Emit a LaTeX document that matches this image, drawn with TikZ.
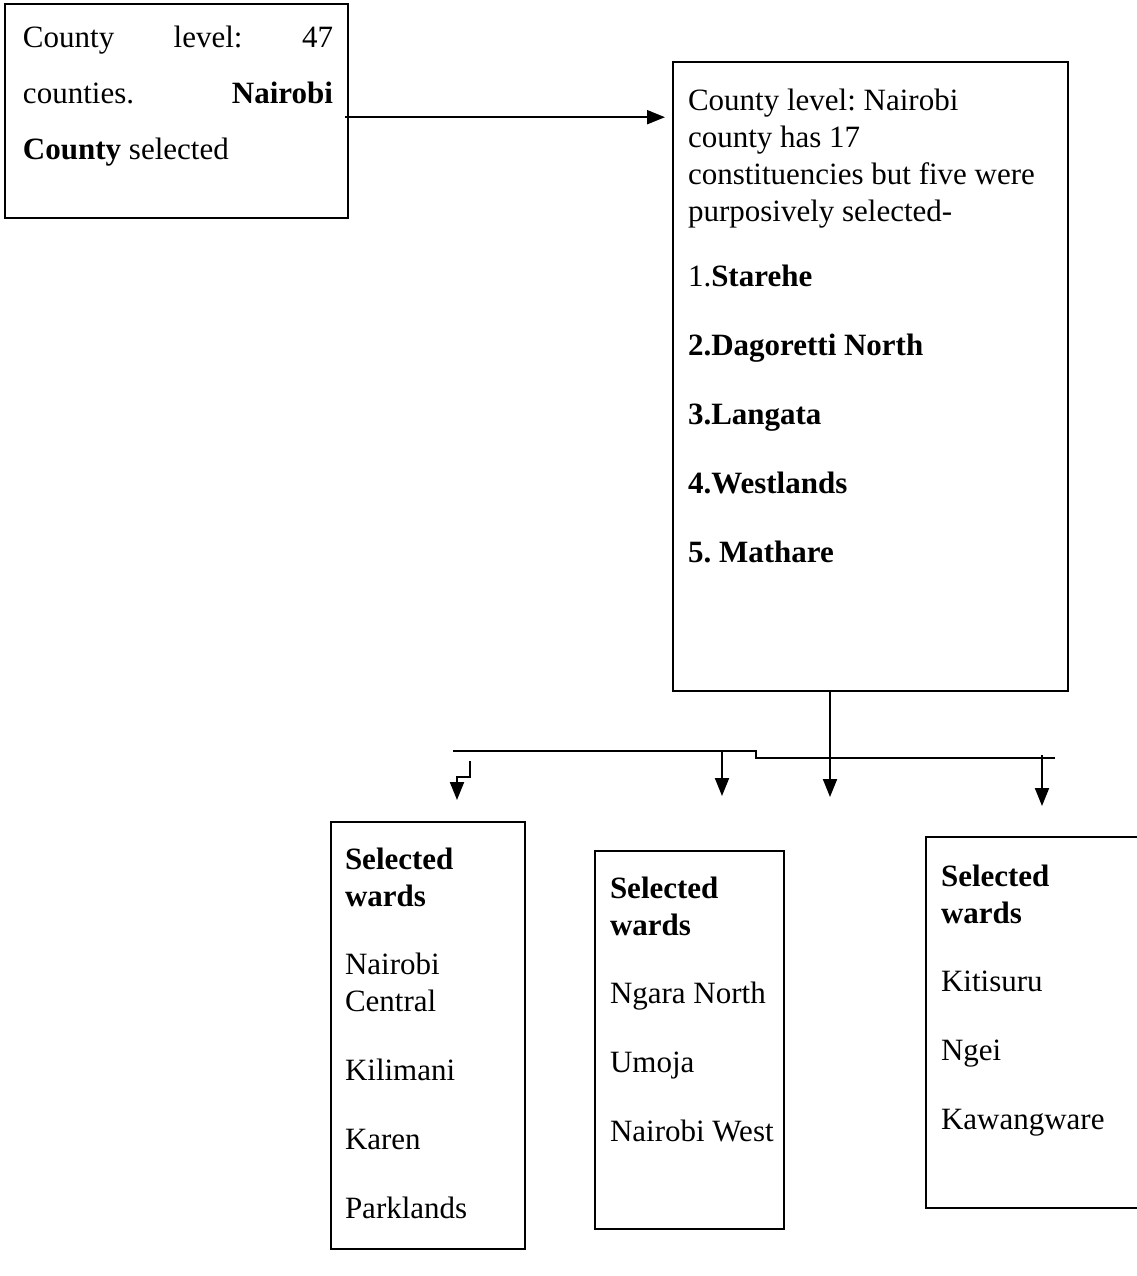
\documentclass[tikz,border=0pt]{standalone}
\usepackage{fontspec}
\setmainfont{Liberation Serif}
\usetikzlibrary{arrows.meta,calc}
\frenchspacing

\begin{document}
\begin{tikzpicture}[x=1pt,y=-1pt,line width=2pt,
 frame/.style={draw,line width=2.4pt,anchor=north west,inner sep=0pt},
 txt/.style={anchor=north west,inner sep=0pt,align=left,font=\fontsize{31}{37}\selectfont},
 arr/.style={-{Triangle[length=18pt,width=14pt]}}]
 \useasboundingbox (0,0) rectangle (1136,1276);
 % boxes
 \node[frame,minimum width=343pt,minimum height=214pt] (county) at (4,3) {};
 \node[frame,minimum width=395pt,minimum height=629pt] (const) at (672,61) {};
 \node[frame,minimum width=194pt,minimum height=427pt] (wardsA) at (330,821) {};
 \node[frame,minimum width=189pt,minimum height=378pt] (wardsB) at (594,850) {};
 \node[frame,minimum width=216pt,minimum height=371pt] (wardsC) at (925,836) {};
 % texts
 \node[txt] (countytxt) at (22,25) {\makebox[310pt][s]{County level: 47}\\[19pt]
  \makebox[310pt][s]{counties. \textbf{Nairobi}}\\[19pt] \textbf{County} selected};
 \node[txt] (consttxt) at (687,88) {County level: Nairobi\\ county has 17\\
  constituencies but five were\\ purposively selected-\\[28pt] 1.\textbf{Starehe}\\[32pt]
  \textbf{2.Dagoretti North}\\[32pt] \textbf{3.Langata}\\[32pt] \textbf{4.Westlands}\\[32pt]
  \textbf{5. Mathare}};
 \node[txt] (wardsAtxt) at (344,847) {\textbf{Selected}\\ \textbf{wards}\\[31pt] Nairobi\\ Central\\[32pt]
  Kilimani\\[32pt] Karen\\[32pt] Parklands};
 \node[txt] (wardsBtxt) at (609,876) {\textbf{Selected}\\ \textbf{wards}\\[31pt] Ngara North\\[32pt]
  Umoja\\[32pt] Nairobi West};
 \node[txt] (wardsCtxt) at (940,864) {\textbf{Selected}\\ \textbf{wards}\\[31pt] Kitisuru\\[32pt]
  Ngei\\[32pt] Kawangware};
 % connectors
 \draw[arr] ($(county.east)+(-4,6)$) -- ($(county.east -| const.west)+(-7,6)$);
 \coordinate (drop) at ($(const.south west)+(158,0)$);
 \coordinate (busL) at (453,751);
 \coordinate (busM) at (756,751);
 \coordinate (busR) at (1055,758);
 \coordinate (stub) at (470,761);
 \coordinate (tipA) at (457,800);
 \coordinate (forkB) at (722,751);
 \coordinate (tipB) at (722,796);
 \coordinate (tipC) at (830,797);
 \coordinate (forkD) at (1042,755);
 \coordinate (tipD) at (1042,806);
 \draw (busL) -- (busM) -- (busM |- busR) -- (busR);
 \draw[arr] (stub) -- ++(0,16) -| (tipA);
 \draw[arr] (forkB) -- (tipB);
 \draw[arr] (drop) -- (tipC);
 \draw[arr] (forkD) -- (tipD);
\end{tikzpicture}
\end{document}
